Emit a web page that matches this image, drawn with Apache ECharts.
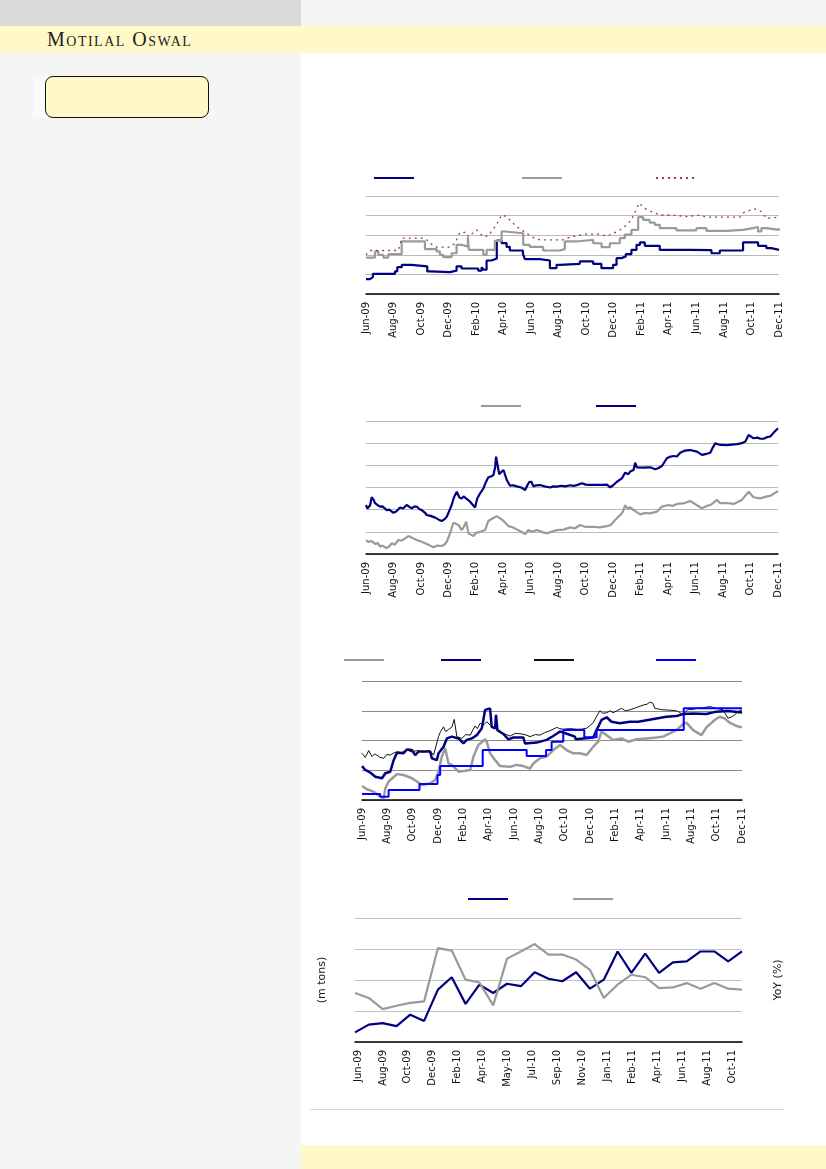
<!DOCTYPE html>
<html>
<head>
<meta charset="utf-8">
<script src="https://cdn.jsdelivr.net/npm/echarts@6/dist/echarts.min.js"></script>
<style>
html,body{margin:0;padding:0;width:826px;height:1169px;overflow:hidden;background:#fff;}
.bg{position:absolute;}
#chart{position:absolute;left:0;top:0;width:826px;height:1169px;}
</style>
</head>
<body>
<div class="bg" style="left:0;top:0;width:301px;height:1169px;background:#f5f5f5;"></div>
<div class="bg" style="left:301px;top:0;width:525px;height:26px;background:#f5f5f5;"></div>
<div class="bg" style="left:0;top:0;width:301px;height:26px;background:#dadada;"></div>
<div class="bg" style="left:0;top:26px;width:826px;height:27px;background:#fff9c8;"></div>
<div class="bg" style="left:47px;top:27px;font-family:'Liberation Serif',serif;font-variant:small-caps;font-size:20px;letter-spacing:1.5px;color:#222;line-height:24px;white-space:nowrap;">Motilal Oswal</div>
<div class="bg" style="left:33px;top:76px;width:14px;height:42px;background:#fafafa;"></div>
<div class="bg" style="left:45px;top:76px;width:162px;height:40px;background:#fff9c8;border:1.5px solid #111;border-radius:8px;"></div>
<div class="bg" style="left:310px;top:1109px;width:474px;height:1px;background:#d6d6d6;"></div>
<div class="bg" style="left:301px;top:1145px;width:525px;height:24px;background:#fff9c8;"></div>
<div id="chart"></div>
<script>
// ---- tick labels ----
const monthTicks = ['Jun-09','Aug-09','Oct-09','Dec-09','Feb-10','Apr-10','Jun-10','Aug-10','Oct-10','Dec-10','Feb-11','Apr-11','Jun-11','Aug-11','Oct-11','Dec-11'];
const c4Ticks = ['Jun-09','Aug-09','Oct-09','Dec-09','Feb-10','Apr-10','May-10','Jul-10','Sep-10','Nov-10','Jan-11','Feb-11','Apr-11','Jun-11','Aug-11','Oct-11'];
const c4Months = ['Jun-09','Jul-09','Aug-09','Sep-09','Oct-09','Nov-09','Dec-09','Jan-10','Feb-10','Mar-10','Apr-10','May-10','Jun-10','Jul-10','Aug-10','Sep-10','Oct-10','Nov-10','Dec-10','Jan-11','Feb-11','Mar-11','Apr-11','May-11','Jun-11','Jul-11','Aug-11','Sep-11','Oct-11'];

// ---- chart 1 (x = months since Jun-09) ----
const c1Navy = [[0,0.76],[0.29,0.86],[0.5,1.03],[2.1,1.15],[2.27,1.37],[2.6,1.49],[3.3,1.41],[4.45,1.15],[4.65,1.12],[6.1,1.19],[6.58,1.41],[6.94,1.3],[8.15,1.19],[8.4,1.37],[8.52,1.24],[8.76,1.71],[9.12,1.81],[9.5,2.73],[9.85,2.6],[10.21,2.4],[10.45,2.22],[11.4,2.05],[11.54,1.78],[12.63,1.71],[13.36,1.32],[13.84,1.49],[14.08,1.54],[15.53,1.66],[16.5,1.54],[17.1,1.32],[17.95,1.49],[18.2,1.83],[18.56,1.92],[18.87,2.03],[19.28,2.25],[19.65,2.51],[19.9,2.63],[20.25,2.46],[21.34,2.25],[23.5,2.24],[25.09,2.08],[25.7,2.22],[27.39,2.63],[28.48,2.46],[29.08,2.34],[29.45,2.25],[30,2.25]];
const c1Gray = [[0,1.86],[0.65,2.17],[0.9,2.0],[1.26,1.86],[1.62,2.03],[2.59,2.68],[4.28,2.29],[5.13,2.17],[5.37,2.0],[5.61,1.88],[6.22,2.08],[6.58,2.51],[6.94,2.42],[7.4,2.9],[7.47,2.25],[8.52,2.0],[8.76,2.25],[9.36,2.71],[9.85,3.19],[10.09,3.1],[11.42,2.51],[11.9,2.4],[12.87,2.22],[14.08,2.29],[14.44,2.68],[15.29,2.73],[16.02,2.76],[16.5,2.59],[17.11,2.39],[17.71,2.59],[18.44,2.85],[18.8,3.03],[19.28,3.27],[19.77,3.92],[20.13,3.78],[20.61,3.64],[20.98,3.53],[21.34,3.36],[22.55,3.25],[24.0,3.36],[24.73,3.22],[26.18,3.27],[27.39,3.36],[28.12,3.42],[28.48,3.19],[28.72,3.36],[29.08,3.27],[30,3.36]];
const c1Dot = [[0,2.0],[0.3,2.22],[2.35,2.22],[2.6,2.85],[4.28,2.85],[4.65,2.59],[5.13,2.39],[6.1,2.39],[6.46,2.59],[6.82,3.14],[7.31,3.14],[7.43,2.93],[8.03,3.27],[8.52,2.93],[8.88,2.97],[9.48,3.53],[9.85,4.03],[10.21,3.95],[10.57,3.69],[10.94,3.44],[11.66,3.1],[12.15,2.88],[12.63,2.76],[14.32,2.76],[14.81,2.9],[15.53,3.0],[16.02,3.05],[16.99,3.05],[17.47,2.95],[18.2,3.17],[18.68,3.36],[19.28,3.78],[19.84,4.63],[20.25,4.37],[20.74,4.2],[21.34,4.03],[22.31,4.03],[23.28,3.95],[24.24,4.03],[24.73,3.92],[27.15,3.92],[27.51,4.2],[28.24,4.34],[28.72,4.2],[29.08,3.86],[30,3.92]];

// ---- chart 2 ----
const c2Navy = [[0,2.21],[0.1,2.05],[0.17,2.0],[0.3,2.2],[0.41,2.56],[0.55,2.45],[0.66,2.29],[0.85,2.2],[1.02,2.14],[1.2,2.15],[1.51,1.98],[1.7,2.0],[1.99,1.86],[2.2,1.92],[2.48,2.1],[2.7,2.05],[2.96,2.21],[3.1,2.12],[3.33,2.06],[3.5,2.14],[3.69,2.14],[3.9,2.02],[4.06,1.98],[4.3,1.86],[4.42,1.76],[4.7,1.72],[5.03,1.64],[5.3,1.55],[5.51,1.49],[5.7,1.56],[5.88,1.68],[6.1,2.0],[6.24,2.21],[6.4,2.55],[6.61,2.81],[6.8,2.55],[6.97,2.5],[7.1,2.6],[7.21,2.58],[7.4,2.45],[7.58,2.36],[7.8,2.2],[7.94,2.1],[8.1,2.5],[8.31,2.74],[8.55,2.96],[8.7,3.2],[8.91,3.46],[9.1,3.5],[9.28,3.56],[9.4,3.9],[9.47,4.39],[9.6,4.3],[9.7,3.6],[9.85,3.7],[10.01,3.79],[10.25,3.34],[10.49,3.08],[10.7,3.1],[10.98,3.05],[11.3,3.0],[11.59,2.89],[11.75,3.1],[11.9,3.26],[12.05,3.25],[12.19,3.05],[12.4,3.1],[12.68,3.11],[13.0,3.05],[13.41,3.0],[13.6,3.05],[13.89,3.04],[14.2,3.08],[14.5,3.05],[14.87,3.1],[15.11,3.07],[15.4,3.12],[15.72,3.19],[16.0,3.13],[16.32,3.12],[16.8,3.12],[17.2,3.12],[17.54,3.13],[17.78,3.01],[18.0,3.1],[18.27,3.26],[18.63,3.41],[18.87,3.67],[19.1,3.6],[19.24,3.72],[19.48,3.79],[19.6,4.12],[19.72,3.91],[20.2,3.9],[20.69,3.91],[21.06,3.82],[21.3,3.88],[21.55,3.97],[21.91,4.32],[22.1,4.38],[22.4,4.42],[22.64,4.4],[22.88,4.57],[23.2,4.66],[23.61,4.69],[24.1,4.62],[24.46,4.47],[24.8,4.52],[25.07,4.57],[25.25,4.8],[25.43,4.99],[25.8,4.92],[26.3,4.91],[27.01,4.96],[27.37,5.0],[27.62,5.07],[27.86,5.37],[28.22,5.22],[28.5,5.25],[28.71,5.2],[28.95,5.2],[29.2,5.27],[29.44,5.3],[29.68,5.47],[30,5.67]];
const c2Gray = [[0,0.63],[0.15,0.55],[0.29,0.48],[0.4,0.58],[0.53,0.55],[0.7,0.45],[0.85,0.5],[1.02,0.33],[1.2,0.38],[1.51,0.26],[1.7,0.35],[1.87,0.48],[2.1,0.42],[2.36,0.63],[2.6,0.6],[3.08,0.81],[3.3,0.75],[3.69,0.63],[4.06,0.55],[4.3,0.48],[4.6,0.4],[4.91,0.3],[5.2,0.38],[5.51,0.36],[5.7,0.42],[5.88,0.55],[6.12,0.93],[6.36,1.41],[6.5,1.35],[6.73,1.31],[6.97,1.08],[7.1,1.2],[7.29,1.46],[7.46,0.93],[7.6,0.85],[7.82,0.81],[8.0,0.95],[8.31,1.0],[8.67,1.08],[8.91,1.49],[9.2,1.6],[9.52,1.71],[9.76,1.61],[10.0,1.5],[10.37,1.26],[10.7,1.2],[10.98,1.11],[11.3,1.0],[11.59,0.9],[11.83,1.08],[12.1,1.0],[12.44,1.08],[12.8,1.0],[13.17,0.93],[13.5,1.0],[13.89,1.08],[14.4,1.1],[14.87,1.2],[15.2,1.15],[15.59,1.31],[16.0,1.22],[16.57,1.23],[17.0,1.2],[17.54,1.26],[17.8,1.3],[18.14,1.53],[18.51,1.76],[18.7,1.9],[18.87,2.21],[19.05,2.05],[19.24,2.11],[19.48,1.98],[19.6,1.93],[19.97,1.79],[20.3,1.85],[20.69,1.83],[21.18,1.91],[21.55,2.14],[22.03,2.21],[22.3,2.17],[22.64,2.26],[23.1,2.28],[23.61,2.39],[24.1,2.2],[24.46,2.06],[24.82,2.17],[25.1,2.22],[25.55,2.44],[25.8,2.29],[26.3,2.3],[26.77,2.26],[27.37,2.44],[27.86,2.81],[28.22,2.56],[28.71,2.51],[29.2,2.6],[29.44,2.62],[30,2.84]];

// ---- chart 3 ----
const c3Gray = [[0,0.47],[0.39,0.36],[0.92,0.28],[1.44,0.11],[1.71,0.06],[1.84,0.39],[2.1,0.62],[2.76,0.87],[3.28,0.84],[3.94,0.73],[4.33,0.62],[4.73,0.5],[5.38,0.56],[5.78,0.67],[6.04,0.95],[6.3,1.46],[6.57,1.74],[6.83,1.23],[7.09,1.18],[7.62,0.95],[8.14,0.98],[8.54,1.01],[8.8,1.46],[9.19,1.85],[9.72,2.04],[9.85,1.96],[10.11,1.57],[10.51,1.34],[10.9,1.14],[11.69,1.12],[12.21,1.18],[12.74,1.14],[13.27,1.06],[13.53,1.23],[14.05,1.4],[14.58,1.46],[15.1,1.68],[15.63,1.85],[16.15,1.68],[16.68,1.57],[17.2,1.57],[17.73,1.51],[18.26,1.79],[18.65,1.96],[18.91,2.3],[19.31,2.18],[19.83,2.02],[20.49,2.07],[21.01,1.96],[21.67,2.04],[22.46,2.07],[23.25,2.1],[23.77,2.13],[24.3,2.24],[24.82,2.35],[25.35,2.55],[25.61,2.6],[26.14,2.35],[26.8,2.18],[27.19,2.44],[27.84,2.69],[28.24,2.8],[28.63,2.74],[29.02,2.6],[29.55,2.49],[30,2.44]];
const c3Navy = [[0,1.14],[0.26,1.01],[0.66,0.92],[1.05,0.78],[1.58,0.73],[1.84,0.9],[2.23,0.95],[2.5,1.34],[2.76,1.59],[3.28,1.57],[3.55,1.7],[3.94,1.68],[4.2,1.51],[4.47,1.63],[5.38,1.63],[5.52,1.4],[5.91,1.34],[6.04,1.57],[6.44,1.79],[6.7,2.07],[7.09,2.13],[7.62,2.07],[8.01,1.9],[8.27,2.02],[8.67,2.07],[9.06,2.18],[9.46,2.41],[9.72,3.03],[10.11,3.08],[10.24,2.46],[10.51,2.41],[10.58,2.86],[10.69,2.35],[11.16,2.22],[11.56,2.04],[11.95,2.1],[12.74,2.1],[12.87,1.9],[13.79,1.93],[14.58,2.02],[15.1,2.15],[15.63,2.3],[15.89,2.27],[16.81,2.13],[16.86,2.04],[17.47,2.07],[18.26,2.1],[18.52,2.35],[18.91,2.69],[19.31,2.78],[19.7,2.63],[20.36,2.58],[21.15,2.63],[21.8,2.63],[22.59,2.69],[23.25,2.74],[24.03,2.8],[24.82,2.82],[25.35,2.89],[26.14,2.91],[27.19,2.89],[27.97,2.97],[28.89,2.99],[30,2.94]];
const c3Black = [[0,1.57],[0.26,1.43],[0.53,1.66],[0.79,1.46],[1.0,1.55],[1.18,1.51],[1.4,1.44],[1.71,1.4],[1.95,1.53],[2.23,1.51],[2.5,1.58],[2.76,1.62],[3.1,1.6],[3.55,1.68],[3.9,1.62],[4.33,1.66],[4.8,1.62],[5.38,1.66],[5.65,1.51],[6.04,2.13],[6.2,2.3],[6.44,2.46],[6.6,2.3],[6.83,2.37],[7.1,2.45],[7.28,2.71],[7.49,2.13],[7.88,2.07],[8.2,2.2],[8.54,2.18],[8.75,2.35],[8.93,2.49],[9.1,2.4],[9.33,2.58],[9.6,2.52],[9.85,2.63],[10.11,2.52],[10.51,2.41],[10.8,2.3],[11.16,2.24],[11.4,2.2],[11.69,2.15],[12.1,2.24],[12.61,2.22],[13.0,2.18],[13.27,2.13],[13.7,2.2],[14.05,2.18],[14.4,2.26],[14.84,2.33],[15.1,2.38],[15.37,2.44],[15.6,2.4],[15.89,2.38],[16.4,2.4],[16.94,2.38],[17.3,2.38],[17.73,2.41],[18.26,2.6],[18.5,2.8],[18.78,3.0],[19.0,2.92],[19.31,2.93],[19.6,3.0],[19.83,2.93],[20.2,3.02],[20.49,3.08],[20.8,3.0],[21.15,3.03],[21.6,3.1],[22.2,3.19],[22.5,3.22],[22.72,3.29],[22.95,3.26],[23.12,3.08],[23.5,3.05],[23.77,3.03],[24.3,3.02],[24.82,3.0],[25.1,2.94],[25.35,2.86],[25.74,3.05],[26.1,3.04],[26.4,3.08],[26.9,3.1],[27.45,3.14],[28.0,3.08],[28.5,3.03],[28.89,2.75],[29.2,2.8],[29.42,2.86],[29.7,2.98],[30,3.03]];
const c3Blue = [[0,0.2],[1.44,0.11],[2.1,0.34],[4.54,0.54],[5.96,0.84],[6.17,1.14],[9.53,1.68],[13.0,1.48],[14.53,1.68],[14.97,1.96],[15.89,2.35],[17.55,2.11],[18.52,2.35],[25.4,3.08],[30,3.08]];

// ---- chart 4 (monthly) ----
const c4Volume = [0.31,0.56,0.61,0.51,0.88,0.68,1.69,2.09,1.23,1.85,1.58,1.88,1.8,2.25,2.04,1.96,2.25,1.72,2.01,2.92,2.23,2.85,2.23,2.57,2.6,2.92,2.92,2.6,2.92];
const c4Yoy = [1.58,1.42,1.06,1.17,1.26,1.31,3.03,2.95,2.01,1.92,1.18,2.69,2.92,3.16,2.82,2.82,2.66,2.33,1.42,1.85,2.17,2.09,1.74,1.76,1.9,1.72,1.9,1.72,1.69];

const NAVY = '#000080', GRAY = '#9a9a9a', DOT = '#a3336b', BLUE = '#0000ff', BLACK = '#111111';
const FONT = 'DejaVu Sans';

function timeX(gi) {
  return {
    type: 'value', gridIndex: gi, min: 0, max: 30, interval: 2,
    axisLine: {show: true, lineStyle: {color: '#000', width: 1.5}},
    axisTick: {show: false}, splitLine: {show: false},
    axisLabel: {rotate: 90, margin: 8, fontFamily: FONT, fontSize: 10, color: '#111',
      formatter: v => monthTicks[Math.round(v / 2)] || ''}
  };
}
function valY(gi, max, gridColor) {
  return {
    type: 'value', gridIndex: gi, min: 0, max: max, interval: 1,
    axisLine: {show: false}, axisTick: {show: false}, axisLabel: {show: false},
    splitLine: {show: true, lineStyle: {color: gridColor, width: 1}}
  };
}
function lineS(name, xi, yi, data, color, width, extra) {
  return Object.assign({
    name: name, type: 'line', xAxisIndex: xi, yAxisIndex: yi, data: data,
    symbol: 'none', showSymbol: false, animation: false,
    lineStyle: {color: color, width: width}, itemStyle: {color: color}
  }, extra || {});
}
function leg(name, left, top) {
  return {data: [name], left: left, top: top, itemWidth: 40, itemHeight: 14, itemGap: 0,
    padding: 0, formatter: () => '', textStyle: {fontSize: 1}, selectedMode: false,
    itemStyle: {opacity: 0}};
}

const option = {
  animation: false,
  backgroundColor: 'transparent',
  grid: [
    {left: 366, top: 196, width: 413, height: 98},
    {left: 366, top: 421, width: 412, height: 133},
    {left: 362, top: 681, width: 380, height: 119},
    {left: 355, top: 918, width: 387, height: 124},
    {left: 358, top: 918, width: 374, height: 124}
  ],
  xAxis: [
    timeX(0), timeX(1), timeX(2),
    {type: 'category', gridIndex: 3, data: c4Months, boundaryGap: false,
      axisLine: {show: true, lineStyle: {color: '#000', width: 1.5}},
      axisTick: {show: false}, axisLabel: {show: false}, splitLine: {show: false}},
    {type: 'category', gridIndex: 4, data: c4Ticks, boundaryGap: false,
      axisLine: {show: false}, axisTick: {show: false}, splitLine: {show: false},
      axisLabel: {rotate: 90, margin: 8, interval: 0, fontFamily: FONT, fontSize: 10, color: '#111'}}
  ],
  yAxis: [
    valY(0, 5, '#b9b9b9'),
    valY(1, 6, '#b9b9b9'),
    valY(2, 4, '#8a8a8a'),
    Object.assign(valY(3, 4, '#c2c2c2'), {name: '(m tons)', nameLocation: 'middle', nameRotate: 90, nameGap: 27,
      nameTextStyle: {fontFamily: FONT, fontSize: 11, color: '#222'}}),
    {type: 'value', gridIndex: 3, position: 'right', min: 0, max: 4, interval: 1,
      axisLine: {show: false}, axisTick: {show: false}, axisLabel: {show: false}, splitLine: {show: false},
      name: 'YoY (%)', nameLocation: 'middle', nameRotate: 90, nameGap: 31,
      nameTextStyle: {fontFamily: FONT, fontSize: 11, color: '#222'}},
    {type: 'value', gridIndex: 4, min: 0, max: 4, show: false}
  ],
  legend: [
    leg('Price A', 373, 171), leg('Price B', 521, 171), leg('Price C', 655, 171),
    leg('Index A', 480, 399), leg('Index B', 595, 399),
    leg('Stock A', 343, 653), leg('Stock B', 440, 653), leg('Stock C', 533, 653), leg('Stock D', 655, 653),
    leg('Volume', 467, 892), leg('Growth', 572, 892)
  ],
  series: [
    lineS('Price A', 0, 0, c1Navy, NAVY, 2.2, {step: 'end'}),
    lineS('Price B', 0, 0, c1Gray, GRAY, 2.2, {step: 'end'}),
    lineS('Price C', 0, 0, c1Dot, DOT, 1.3, {lineStyle: {color: DOT, width: 1.3, type: [2, 4]}}),
    lineS('Index A', 1, 1, c2Gray, GRAY, 2.2),
    lineS('Index B', 1, 1, c2Navy, NAVY, 2.2),
    lineS('Stock A', 2, 2, c3Gray, GRAY, 2.5),
    lineS('Stock B', 2, 2, c3Navy, NAVY, 2.5),
    lineS('Stock C', 2, 2, c3Black, BLACK, 1),
    lineS('Stock D', 2, 2, c3Blue, BLUE, 2, {step: 'end'}),
    lineS('Volume', 3, 3, c4Volume, NAVY, 2.2),
    lineS('Growth', 3, 4, c4Yoy, GRAY, 2.2)
  ]
};
const chart = echarts.init(document.getElementById('chart'), null, {renderer: 'canvas'});
chart.setOption(option);
</script>
</body>
</html>
